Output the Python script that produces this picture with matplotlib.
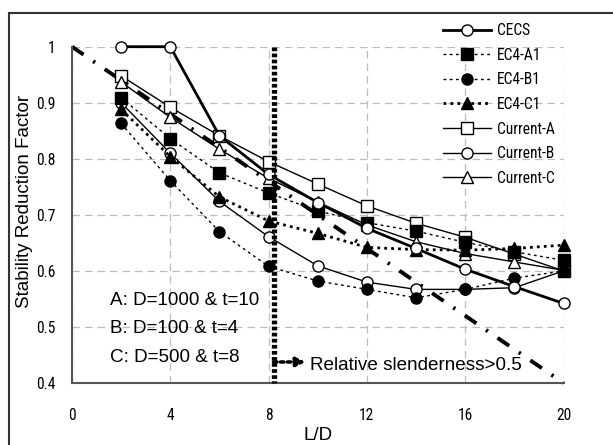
import numpy as np
import matplotlib.pyplot as plt
from matplotlib.patches import Rectangle
from matplotlib import font_manager

# data
ld = [2, 4, 6, 8, 10, 12, 14, 16, 18, 20]
cecs = [1.0, 1.0, 0.841, 0.772, 0.722, 0.676, 0.640, 0.603, 0.572, 0.542]
ec4_a1 = [0.909, 0.836, 0.775, 0.739, 0.707, 0.686, 0.671, 0.651, 0.634, 0.619]
ec4_b1 = [0.863, 0.761, 0.670, 0.608, 0.582, 0.567, 0.552, 0.567, 0.587, 0.600]
ec4_c1 = [0.888, 0.804, 0.732, 0.689, 0.667, 0.642, 0.638, 0.637, 0.640, 0.646]
cur_a = [0.948, 0.892, 0.841, 0.795, 0.755, 0.716, 0.685, 0.660, 0.630, 0.600]
cur_b = [0.900, 0.810, 0.724, 0.661, 0.609, 0.580, 0.567, 0.567, 0.570, 0.600]
cur_c = [0.937, 0.874, 0.817, 0.765, 0.723, 0.682, 0.652, 0.631, 0.616, 0.601]
ref_x = [0, 20]
ref_y = [1.0, 0.4]
limit_ld = 8.2

notes = ["A: D=1000 & t=10", "B: D=100 & t=4", "C: D=500 & t=8"]

names = set(f.name for f in font_manager.fontManager.ttflist)
narrow = 'Liberation Sans'
for cand in ['Liberation Sans Narrow', 'Arial Narrow', 'Roboto Condensed']:
    if cand in names:
        narrow = cand
        break
small = 11.2
plt.rcParams['font.family'] = ['Liberation Sans', 'DejaVu Sans']

fig = plt.figure(figsize=(6.13, 4.45), dpi=100)
ax = fig.add_axes([72 / 613, 1 - 383 / 445, (563.5 - 72) / 613, (383 - 46.7) / 445])

ax.plot(ref_x, ref_y, color='black', lw=2.8, dashes=(3.6, 3, 0.6, 3), zorder=2)
ms = 8
ax.plot(ld, cur_a, '-', color='black', lw=1, marker='s', ms=ms, mfc='white', mec='black', label='Current-A', zorder=3)
ax.plot(ld, cur_b, '-', color='black', lw=1, marker='o', ms=ms, mfc='white', mec='black', label='Current-B', zorder=3)
ax.plot(ld, cur_c, '-', color='black', lw=1, marker='^', ms=ms, mfc='white', mec='black', label='Current-C', zorder=3)
ax.plot(ld, ec4_a1, color='black', lw=1, dashes=(2, 2.5), marker='s', ms=ms, label='EC4-A1', zorder=4)
ax.plot(ld, ec4_b1, color='black', lw=1, dashes=(2, 2.5), marker='o', ms=ms, label='EC4-B1', zorder=4)
ax.plot(ld, ec4_c1, color='black', lw=2, dashes=(1, 1.5), marker='^', ms=ms, label='EC4-C1', zorder=4)
ax.plot(ld, cecs, '-', color='black', lw=2, marker='o', ms=ms, mfc='white', mec='black', label='CECS', zorder=5)

ax.plot([limit_ld, limit_ld], [1.0, 0.4], color='black', lw=3.8, dashes=(0.7, 0.45), zorder=6)
ax.annotate('', xy=(9.5, 0.4375), xytext=(limit_ld, 0.4375),
            arrowprops=dict(arrowstyle='-|>', color='black', lw=2.5, linestyle=(0, (1, 1)),
                            mutation_scale=13, shrinkA=0, shrinkB=0), zorder=6)
ax.text(9.67, 0.432, "Relative slenderness>0.5", fontsize=13.6, va='center', ha='left')

for i, s in enumerate(notes):
    ax.text(1.55, 0.548 - i * 0.051, s, fontsize=13.6, va='center', ha='left')

ax.set_xlim(0, 20)
ax.set_ylim(0.4, 1.0)
ax.set_xticks(range(0, 21, 4))
ax.set_yticks([0.4, 0.5, 0.6, 0.7, 0.8, 0.9, 1.0])
ax.set_yticklabels(['0.4', '0.5', '0.6', '0.7', '0.8', '0.9', '1'])
for lab in ax.get_xticklabels() + ax.get_yticklabels():
    lab.set_fontfamily(narrow)
    lab.set_fontsize(small)
ax.tick_params(axis='x', length=0, pad=18)
ax.tick_params(axis='y', length=0, pad=12)
ax.grid(True, color='#bdbdbd', lw=0.9, dashes=(6, 4))
ax.set_axisbelow(True)
for sp in ['top', 'right']:
    ax.spines[sp].set_visible(False)
for sp in ['left', 'bottom']:
    ax.spines[sp].set_color('#555555')
    ax.spines[sp].set_linewidth(1.5)
for ln in ax.lines:
    ln.set_clip_on(False)

ax.set_xlabel('L/D', fontsize=13.5)
ax.xaxis.set_label_coords(0.5, -0.131)
ax.set_ylabel('Stability Reduction Factor', fontsize=13.5)
ax.yaxis.set_label_coords(-0.08, 0.54)

h, l = ax.get_legend_handles_labels()
order = ['CECS', 'EC4-A1', 'EC4-B1', 'EC4-C1', 'Current-A', 'Current-B', 'Current-C']
hh = [h[l.index(o)] for o in order]
fig.legend(hh, order, loc='upper left', bbox_to_anchor=(443 / 613, 1 - 23 / 445),
           frameon=False, borderpad=0, borderaxespad=0, handlelength=3.1, handletextpad=0.35,
           labelspacing=0.62, prop={'family': narrow, 'size': small})

fig.add_artist(Rectangle((9 / 613, -0.05), 1.1, 1 - 12.7 / 445 + 0.05, transform=fig.transFigure,
                         fill=False, ec='#333333', lw=1.5))

fig.savefig('out.png', dpi=100)
